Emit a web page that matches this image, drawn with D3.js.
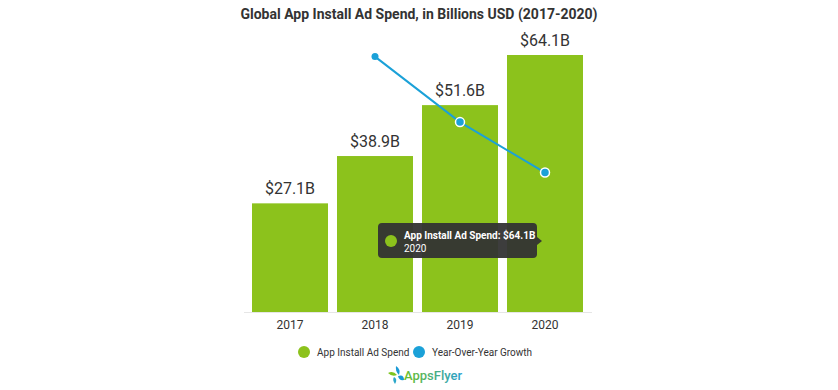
<!DOCTYPE html>
<html><head><meta charset="utf-8">
<script src="https://cdn.jsdelivr.net/npm/d3@7"></script>
<style>body{margin:0;background:#fff;}svg{display:block;font-family:Roboto,"Noto Sans",sans-serif;}</style>
</head><body>
<svg id="c" width="838" height="390"></svg>
<script>
const years = ["2017","2018","2019","2020"];
const spend = [27.1, 38.9, 51.6, 64.1];
const growth = [null, 43.5, 32.6, 24.2];
const spendLabels = ["$27.1B","$38.9B","$51.6B","$64.1B"];
const seriesNames = ["App Install Ad Spend","Year-Over-Year Growth"];
const title = "Global App Install Ad Spend, in Billions USD (2017-2020)";

const GREEN = "#8cc21c", BLUE = "#1ba1d8", TEXT = "#333333";
const svg = d3.select("#c");

const x = d3.scaleBand().domain(years).range([247.5, 587.5]).paddingInner(0.106).paddingOuter(0.053);
const y = d3.scaleLinear().domain([0, 64.1]).range([312, 55]);
const y2 = d3.scaleLinear().domain([0, 44]).range([318, 53.6]);

svg.append("text").attr("x", 419).attr("y", 19).attr("text-anchor","middle")
  .attr("font-size", 14).attr("font-weight", 700).attr("fill", TEXT).text(title);

// axis line
svg.append("line").attr("x1", 244).attr("x2", 592).attr("y1", 312.5).attr("y2", 312.5)
  .attr("stroke", "#e6e6e6");

svg.selectAll("rect.bar").data(spend).join("rect").attr("class","bar")
  .attr("x", (d,i)=>x(years[i])).attr("width", x.bandwidth())
  .attr("y", d=>y(d)).attr("height", d=>y(0)-y(d)).attr("fill", GREEN);

svg.selectAll("text.val").data(spend).join("text").attr("class","val")
  .attr("x", (d,i)=>x(years[i])+x.bandwidth()/2).attr("y", d=>y(d)-9)
  .attr("text-anchor","middle").attr("font-size", 16).attr("fill", TEXT)
  .text((d,i)=>spendLabels[i]);

const xAxis = svg.append("g").attr("transform","translate(0,312)")
  .call(d3.axisBottom(x).tickSize(0).tickPadding(8));
xAxis.select(".domain").remove();
xAxis.selectAll("text").attr("font-size", 12).attr("fill", TEXT).attr("font-family","Roboto,sans-serif");

// growth line
const gpts = growth.map((g,i)=>({g, i})).filter(d=>d.g!=null);
const line = d3.line().x(d=>x(years[d.i])+x.bandwidth()/2).y(d=>y2(d.g));
svg.append("path").datum(gpts).attr("d", line).attr("fill","none")
  .attr("stroke", BLUE).attr("stroke-width", 2);
svg.selectAll("circle.pt").data(gpts).join("circle").attr("class","pt")
  .attr("cx", d=>x(years[d.i])+x.bandwidth()/2).attr("cy", d=>y2(d.g))
  .attr("r", (d,k)=>k===0?3.5:4.5).attr("fill", BLUE)
  .attr("stroke", (d,k)=>k===0?"none":"#fff").attr("stroke-width", 1.5);

// tooltip
const tt = svg.append("g").attr("transform","translate(378,223)");
tt.append("path").attr("d","M4,0 H155 Q159,0 159,4 V14 L164,18 L159,22 V31 Q159,35 155,35 H4 Q0,35 0,31 V4 Q0,0 4,0 Z")
  .attr("fill","#333333").attr("opacity",0.95);
tt.append("circle").attr("cx", 13).attr("cy", 18).attr("r", 6).attr("fill", GREEN);
tt.append("text").attr("x", 26).attr("y", 16).attr("font-size", 10).attr("font-weight",700)
  .attr("fill","#fff").text(seriesNames[0] + ": " + spendLabels[3]);
tt.append("text").attr("x", 26).attr("y", 29).attr("font-size", 10)
  .attr("fill","#fff").text(years[3]);

// legend
const leg = [{name: seriesNames[0], c: GREEN, x: 304}, {name: seriesNames[1], c: BLUE, x: 419}];
leg.forEach(l=>{
  svg.append("circle").attr("cx", l.x).attr("cy", 352).attr("r", 6).attr("fill", l.c);
  svg.append("text").attr("x", l.x+13).attr("y", 356).attr("font-size", 10).attr("fill", TEXT).text(l.name);
});

// AppsFlyer logo
const defs = svg.append("defs");
const grad = defs.append("linearGradient").attr("id","lg").attr("x1","0").attr("x2","1");
grad.append("stop").attr("offset","0").attr("stop-color","#6cbf2a");
grad.append("stop").attr("offset","1").attr("stop-color","#2a9fd0");
const logo = svg.append("g").attr("transform","translate(388,366)");
logo.append("path").attr("d","M0,7 Q5,4 9,9 Q4,11 0,7 Z").attr("fill","#7cc41f");
logo.append("path").attr("d","M8,0 Q13,3 11,9 Q7,5 8,0 Z").attr("fill","#1a9ad6");
logo.append("path").attr("d","M10,10 Q16,8 16,14 Q11,15 10,10 Z").attr("fill","#1a9ad6");
logo.append("path").attr("d","M6,11 Q10,13 7,18 Q4,14 6,11 Z").attr("fill","#2aa7c9");
logo.append("text").attr("x", 16).attr("y", 14).attr("font-size", 13).attr("font-weight",500)
  .attr("fill","url(#lg)").text("AppsFlyer");
</script>
</body></html>
